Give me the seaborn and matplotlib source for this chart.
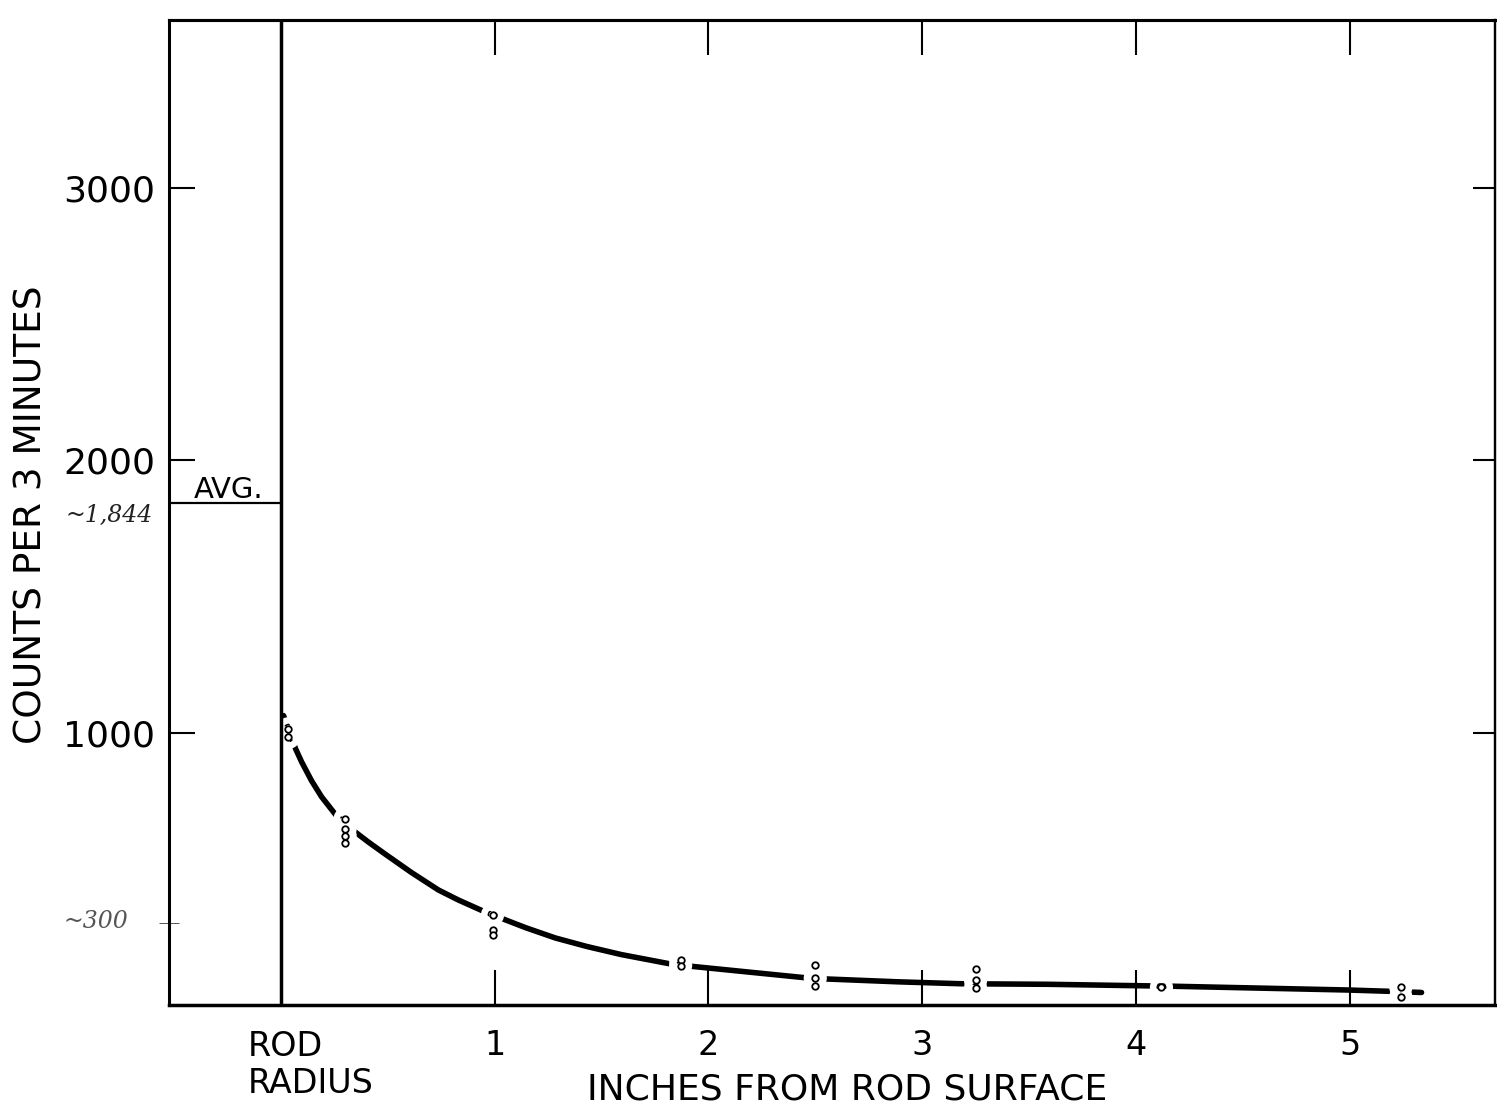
import matplotlib
matplotlib.use("Agg")
import matplotlib.pyplot as plt
import matplotlib.patheffects as pe
import seaborn as sns

# ---------------- data ----------------
# hand-drawn fit curve: inches from rod surface vs counts per 3 minutes
curve_x = [0.012, 0.068, 0.096, 0.143, 0.190, 0.260, 0.349, 0.409, 0.489, 0.611,
           0.737, 0.831, 0.948, 1.032, 1.144, 1.284, 1.430, 1.593, 1.827, 1.921,
           2.454, 2.538, 2.890, 3.184, 3.591, 3.998, 4.167, 4.995, 5.197, 5.337]
curve_y = [1062, 941, 893, 823, 764, 694, 634, 598, 553, 486,
           422, 385, 344, 318, 284, 246, 215, 185, 150, 142,
           100, 96, 85, 78, 76, 71, 69, 55, 50, 46]

# measured points (open circles)
point_x = [0.035, 0.035,
           0.300, 0.300, 0.300, 0.300,
           0.990, 0.990, 0.990,
           1.870, 1.870,
           2.500, 2.500, 2.500,
           3.250, 3.250, 3.250,
           4.120,
           5.240, 5.240]
point_y = [1014, 982,
           683, 646, 622, 594,
           331, 274, 256,
           166, 145,
           148, 99, 69,
           131, 90, 62,
           65,
           65, 30]

rod_surface = 0.0
avg_value = 1844
x_ticks = [1, 2, 3, 4, 5]
x_tick_labels = ["1", "2", "3", "4", "5"]
y_ticks = [1000, 2000, 3000]
y_tick_labels = ["1000", "2000", "3000"]
marked_value = 300
x_limits = (-0.524, 5.681)
y_limits = (0, 3615)

# ---------------- style ----------------
sns.set_style("white", {"axes.edgecolor": "black", "xtick.color": "black",
                        "ytick.color": "black", "text.color": "black",
                        "axes.labelcolor": "black"})
plt.rcParams["font.family"] = ["DejaVu Sans"]

fig = plt.figure(figsize=(14.97, 11.11), dpi=100)
ax = fig.add_axes([0.1129, 0.0954, 0.8858, 0.8866])
ax.set_xlim(*x_limits)
ax.set_ylim(*y_limits)

# curve
sns.lineplot(x=curve_x, y=curve_y, color="black", linewidth=4.0, ax=ax,
             estimator=None, sort=False, solid_capstyle="round")
for ln in ax.lines:
    ln.set_zorder(1)

# white halo that breaks the curve around each point (drawn as a wide white stroke)
halo = sns.scatterplot(x=point_x, y=point_y, s=22, facecolor="white", edgecolor="white",
                       linewidth=0, ax=ax, legend=False)
halo.collections[-1].set_path_effects([pe.withStroke(linewidth=12, foreground="white")])
halo.collections[-1].set_zorder(5.5)

# open circles
sns.scatterplot(x=point_x, y=point_y, s=22, facecolor="white", edgecolor="black",
                linewidth=1.3, ax=ax, legend=False)
ax.collections[-1].set_zorder(6)

# rod surface line and average line
ax.axvline(rod_surface, color="black", linewidth=2.5, zorder=5.8)
ax.hlines(avg_value, x_limits[0], rod_surface, color="black", linewidth=1.6, zorder=5.8)
ax.text(-0.41, 1862, "AVG.", fontsize=21, ha="left", va="baseline")

for side, lw in [("left", 2.2), ("bottom", 2.5), ("top", 2.2), ("right", 1.6)]:
    ax.spines[side].set_visible(True)
    ax.spines[side].set_linewidth(lw)
    ax.spines[side].set_zorder(5.8)

# ticks
ax.set_xticks(x_ticks, labels=x_tick_labels)
ax.set_yticks(y_ticks, labels=y_tick_labels)
ax.tick_params(axis="x", direction="in", length=25, width=1.5, labelsize=24,
               pad=17, bottom=True, top=False)
ax.tick_params(axis="y", direction="in", length=19, width=1.5, labelsize=26,
               pad=10, left=True, right=False)
ax.set_yticks([marked_value], minor=True)
ax.tick_params(axis="y", which="minor", direction="inout", length=14, width=0.7,
               color="#555555", left=True, right=False)

secx = ax.secondary_xaxis("top")
secx.set_xticks(x_ticks, labels=[])
secx.tick_params(direction="in", length=25, width=1.5)
secx.spines["top"].set_linewidth(2.2)

secy = ax.secondary_yaxis("right")
secy.set_yticks(y_ticks, labels=[])
secy.tick_params(direction="in", length=16, width=1.5)
secy.spines["right"].set_linewidth(1.6)

# rod radius label
ax.annotate("ROD\nRADIUS", xy=(-0.154, 0), xycoords=("data", "axes fraction"),
            xytext=(0, -18), textcoords="offset points", ha="left", va="top",
            fontsize=24, linespacing=1.15)

# axis titles
fig.text(0.566, 0.019, "INCHES FROM ROD SURFACE", ha="center", va="center", fontsize=26)
fig.text(0.021, 0.537, "COUNTS PER 3 MINUTES", ha="center", va="center",
         rotation=90, fontsize=27)

# handwritten notes
fig.text(65 / 1497, 1 - 515 / 1111, "~1,844", ha="left", va="center", fontsize=17,
         style="italic", family="DejaVu Serif", color="#222222")
fig.text(63 / 1497, 1 - 922 / 1111, "~300", ha="left", va="center", fontsize=17,
         style="italic", family="DejaVu Serif", color="#555555")

fig.savefig("out.png", dpi=100, facecolor="white")
